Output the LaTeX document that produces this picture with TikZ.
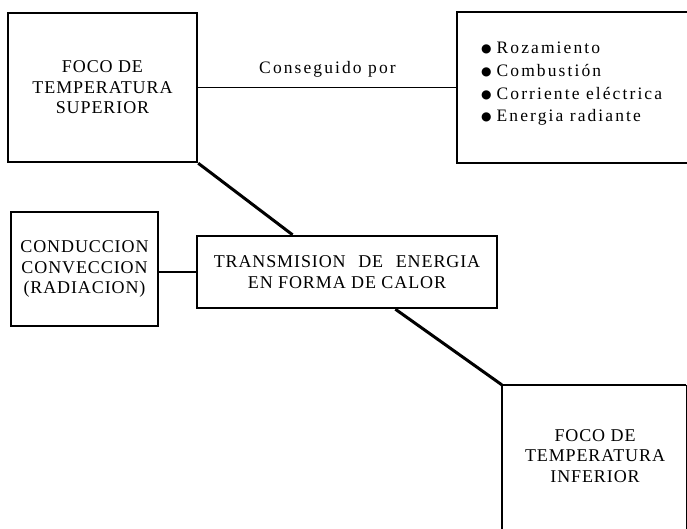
\documentclass[tikz,border=0pt]{standalone}
\usepackage{fontspec}
\setmainfont{Liberation Serif}[LetterSpace=5]
\newfontfamily\spaced{Liberation Serif}[LetterSpace=12]
\newfontfamily\dejavu{DejaVu Sans}
\newcommand{\blt}{\raisebox{1.2pt}{\dejavu\fontsize{12}{12}\selectfont ●}\hspace{5pt}}
\usetikzlibrary{calc}
\begin{document}
\begin{tikzpicture}[x=1pt,y=-1pt,
  box/.style={draw=black,line width=2.4pt,minimum width=#1,align=center,inner sep=0pt},
  openbox/.style={draw=none,inner sep=0pt},
  link/.style={line width=1.6pt},
  diag/.style={line width=3pt},
  txt/.style={font=\fontsize{18}{20.5}\selectfont,align=center}]
\useasboundingbox[fill=white] (0,0) rectangle (687,528);
% boxes
\node[box=189pt,minimum height=149pt,txt] (sup) at (102.5,87.5) {FOCO DE\\TEMPERATURA\\SUPERIOR};
\node[openbox,minimum width=232pt,minimum height=151pt] (lst) at (573,87.5) {};
\draw[line width=2.4pt] (lst.north east) -- (lst.north west) -- (lst.south west) -- (lst.south east);
\node[anchor=west,align=left,font=\fontsize{17.5}{22.7}\selectfont\spaced,inner sep=0pt] (items) at (481,84)
  {\blt Rozamiento\\\blt Combustión\\\blt Corriente eléctrica\\\blt Energia radiante};
\node[box=147pt,minimum height=114pt,txt] (cond) at (84.5,269) {CONDUCCION\\CONVECCION\\(RADIACION)};
\node[box=300pt,minimum height=72pt,txt] (trans) at (347,272) {TRANSMISION\hspace{0.4em} DE\hspace{0.4em} ENERGIA\\EN FORMA DE CALOR};
\node[openbox,minimum width=184pt,minimum height=170pt] (inf) at (594,470) {};
\draw[line width=2.4pt] (inf.south west) -- (inf.north west) -- (inf.north east);
\draw[line width=1pt] (inf.north east) -- (inf.south east);
\node[txt,inner sep=0pt] (inftxt) at (595,456) {FOCO DE\\TEMPERATURA\\INFERIOR};
% connectors
\draw[link] (sup.east) -- (lst.west) node[midway,above=9pt,font=\fontsize{17.5}{20}\selectfont\spaced,inner sep=0pt] (cons) {Conseguido por};
\draw[link] (trans.west) -- (cond.east |- trans.west);
\draw[diag] (sup.south east) -- ($(trans.north west)!0.32!(trans.north east)$);
\draw[diag] ($(trans.south west)!0.66!(trans.south east)$) -- (inf.north west);
\end{tikzpicture}
\end{document}
